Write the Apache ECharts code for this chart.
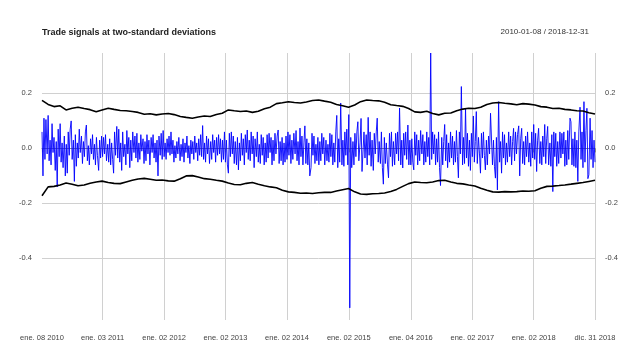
<!DOCTYPE html>
<html><head><meta charset="utf-8">
<script src="https://cdn.jsdelivr.net/npm/echarts@6/dist/echarts.min.js"></script>
<style>html,body{margin:0;padding:0;background:#fff}#c{width:636px;height:347px}</style>
</head><body><div id="c"></div>
<script>
const chartTitle = 'Trade signals at two-standard deviations';
const dateRange = '2010-01-08 / 2018-12-31';
const tickLabels = ['ene. 08 2010','ene. 03 2011','ene. 02 2012','ene. 02 2013','ene. 02 2014','ene. 02 2015','ene. 04 2016','ene. 02 2017','ene. 02 2018','dic. 31 2018'];
const tickIndex = [0, 247, 498, 748, 999, 1251, 1504, 1755, 2005, 2255];
const yTicks = [-0.4, -0.2, 0.0, 0.2];

// daily returns (visual extremes), one array per year
const ret2010 = [.06,-.10,.11,-.04,.105,-.02,.12,-.045,.03,-.06,.09,-.015,.04,-.08,.025,-.14,.07,-.03,.09,-.05,.02,-.07,.045,-.10,.015,-.09,.06,-.025,.07,.10,-.04,.03,-.12,.05,-.065,.02,-.035,.07,-.015,.045,-.055,.025,-.03,.06,.085,-.045,.01,-.06,.035,-.02,.05,-.04,.015,-.06,.04,-.025,-.08,.03,-.035,.045];
const ret2011 = [-.03,.04,-.02,.05,-.045,.015,-.05,.035,-.06,.02,-.04,-.09,.06,-.025,.08,-.035,.07,-.05,.02,-.08,.06,-.03,.015,-.06,.065,-.02,.04,-.07,.03,-.045,.06,-.015,.045,-.035,.055,-.05,.02,-.04,.05,-.01,.035,-.055,.025,-.045,.05,-.02,.03,-.06,.04,-.015,.05,-.035,.02,-.05,.03,-.10,.045,-.025,.055,-.04,.065];
const ret2012 = [-.03,.02,-.04,.035,-.015,.045,-.025,.06,-.02,.03,-.05,.01,-.035,.025,-.02,.04,-.045,.015,-.03,.035,-.05,.02,-.015,.045,-.035,.01,-.055,.03,-.02,.025,-.04,.045,-.015,.02,-.045,.035,-.025,.05,-.03,.083,-.04,.02,-.05,.045,-.02,.035,-.055,.025,-.04,.05,-.015,.03,-.05,.04,-.025,.05,-.02,.035,-.05,.03,-.04,.06];
const ret2013 = [-.05,.03,-.06,-.09,.055,-.03,.06,-.02,.045,-.055,.025,-.06,.04,-.078,.02,-.045,.055,-.025,.035,-.06,.05,-.015,.067,-.04,.03,-.045,.06,-.02,.045,-.07,.035,-.03,.06,-.05,.015,-.055,.05,-.025,.04,-.06,.02,-.05,.05,-.035,.055,-.015,.04,-.06,.03,-.045,.055,-.02,.045,.067,-.055,.025,-.045,.04,-.06,.02,-.05,.045];
const ret2014 = [-.04,.06,-.025,.05,-.055,.03,-.04,.055,-.02,.065,-.045,.025,-.06,.074,-.03,.045,-.06,.02,.082,-.055,.035,-.06,.02,-.10,-.07,.055,-.025,.045,-.055,.015,-.045,.04,-.06,.025,-.045,.055,-.02,.04,-.06,.03,-.045,.015,-.05,.055,-.03,.05,-.06,.02,-.05,.06,.12,-.07,.035,-.05,.165,-.06,.03,-.065,.06,-.025,.07,-.06];
const ret2015 = [.123,-.58,.04,-.07,.025,-.06,.055,-.03,.06,.097,-.045,.02,.109,-.084,-.09,.06,-.035,.05,-.06,.113,-.025,.06,-.065,.03,-.08,.055,-.02,.06,.11,-.05,.025,-.055,.06,-.07,-.13,.04,-.055,.02,-.06,-.107,.055,-.03,.06,-.065,.025,-.06,.055,-.02,.06,-.045,.147,-.06,.03,-.071,.055,-.025,.06,-.04,.085,-.06,.03];
const ret2016 = [-.06,.035,-.05,-.078,.06,-.025,.05,-.06,.03,-.045,.065,-.02,.05,-.06,.025,-.05,.06,-.03,.04,-.06,.347,-.04,.06,-.02,.05,-.06,.035,-.05,.06,-.07,-.135,.04,-.06,.025,.087,-.045,.05,-.07,.02,-.05,.06,-.035,.045,-.06,.025,-.05,.065,-.03,-.107,.06,-.02,.225,-.06,.04,-.055,.146,-.035,.055,-.065,.03,-.08,.055];
const ret2017 = [-.03,.118,-.05,.025,.134,-.055,.04,-.02,-.09,.055,-.035,.06,-.025,-.078,.03,-.06,.045,-.02,.128,.123,-.06,.03,-.065,-.108,.04,-.151,.17,-.05,.025,-.09,.06,-.035,.05,-.06,.02,-.05,.06,-.03,.045,-.06,.025,.073,-.045,.06,-.02,.05,.082,-.10,.035,.073,-.055,.025,-.06,.045,-.03,.06,-.05,.02,-.065,.06,-.035];
const ret2018 = [.087,-.04,.055,-.084,.03,.073,-.055,.025,-.06,.045,-.03,.087,-.055,.035,.08,-.06,.02,-.065,.05,-.157,.06,-.03,.055,-.065,.025,-.055,.06,-.035,.055,-.02,.06,-.065,.03,-.06,.065,-.04,.11,.097,-.06,.035,-.065,.06,-.07,.03,-.12,.06,.15,-.04,.06,-.07,.17,-.05,.065,.146,-.11,-.096,.11,-.04,.065,-.07,.03,-.05];

// rolling two-standard-deviation bands, evenly spaced over the whole period
const upperBand = [.175,.160,.152,.155,.140,.146,.150,.145,.141,.133,.140,.146,.142,.138,.137,.134,.131,.124,.126,.122,.125,.127,.123,.116,.113,.110,.114,.118,.116,.123,.128,.140,.137,.134,.136,.131,.135,.144,.150,.163,.166,.170,.167,.165,.169,.174,.176,.172,.168,.160,.155,.150,.158,.170,.176,.174,.173,.168,.159,.156,.153,.145,.133,.131,.135,.127,.122,.128,.129,.137,.143,.146,.145,.150,.160,.165,.167,.164,.162,.159,.163,.161,.158,.152,.150,.145,.146,.142,.140,.137,.136,.130,.125];
const lowerBand = [-.172,-.140,-.138,-.133,-.126,-.130,-.136,-.133,-.127,-.122,-.119,-.124,-.127,-.128,-.122,-.116,-.111,-.109,-.112,-.116,-.115,-.118,-.119,-.110,-.100,-.099,-.104,-.110,-.112,-.116,-.119,-.126,-.131,-.132,-.127,-.124,-.130,-.136,-.140,-.143,-.152,-.158,-.160,-.163,-.162,-.164,-.161,-.160,-.160,-.155,-.150,-.146,-.158,-.166,-.167,-.165,-.164,-.162,-.157,-.149,-.138,-.128,-.122,-.124,-.125,-.122,-.117,-.116,-.122,-.127,-.129,-.133,-.137,-.145,-.152,-.158,-.159,-.157,-.158,-.157,-.155,-.156,-.154,-.145,-.138,-.137,-.135,-.133,-.130,-.127,-.124,-.120,-.116];

const years = [ret2010, ret2011, ret2012, ret2013, ret2014, ret2015, ret2016, ret2017, ret2018];
const N = tickIndex[tickIndex.length - 1] + 1;
const cats = [];
for (let i = 0; i < N; i++) cats.push(String(i));
const labelAt = {};
tickIndex.forEach((t, k) => { labelAt[t] = tickLabels[k]; });
const tickSet = new Set(tickIndex);

const blue = [];
years.forEach((arr, y) => {
  const s = tickIndex[y], e = tickIndex[y + 1];
  const last = y === years.length - 1;
  const step = last ? (e - s) / (arr.length - 1) : (e - s) / arr.length;
  arr.forEach((v, k) => blue.push([Math.round(s + k * step), v]));
});
function bandData(arr) {
  const step = (N - 1) / (arr.length - 1);
  return arr.map((v, k) => [Math.round(k * step), v]);
}

const yMin = -0.624, yMax = 0.347;
const chart = echarts.init(document.getElementById('c'), null, {renderer: 'canvas'});
const lblStyle = {fontFamily: 'Liberation Sans, Arial, sans-serif', fontSize: 7.5, color: '#444'};
chart.setOption({
  animation: false,
  backgroundColor: '#ffffff',
  title: [
    {text: chartTitle, left: 42, top: 28, padding: 0,
     textStyle: {fontFamily: 'Liberation Sans, Arial, sans-serif', fontSize: 9, fontWeight: 'bold', color: '#222'}},
    {text: dateRange, right: 47, top: 28, padding: 0,
     textStyle: {fontFamily: 'Liberation Sans, Arial, sans-serif', fontSize: 8, fontWeight: 'normal', color: '#333'}}
  ],
  grid: {left: 42, right: 41, top: 53, bottom: 27, containLabel: false, outerBoundsMode: 'none'},
  xAxis: {
    type: 'category', data: cats, boundaryGap: false,
    axisLine: {show: true, lineStyle: {color: '#888', width: 1}},
    axisTick: {show: true, length: 4, interval: (i) => tickSet.has(i), lineStyle: {color: '#888'}},
    axisLabel: Object.assign({interval: (i) => tickSet.has(i), margin: 14,
      formatter: (v, i) => labelAt[Number(v)] || ''}, lblStyle),
    splitLine: {show: true, interval: (i) => tickSet.has(i) && i > 0, lineStyle: {color: '#d0d0d0', width: 1}}
  },
  yAxis: [
    {type: 'value', min: yMin, max: yMax, position: 'left',
     axisLine: {show: false}, axisTick: {show: false, customValues: yTicks},
     axisLabel: Object.assign({customValues: yTicks, margin: 10, formatter: v => v.toFixed(1)}, lblStyle),
     splitLine: {show: true, lineStyle: {color: '#d0d0d0', width: 1}}},
    {type: 'value', min: yMin, max: yMax, position: 'right',
     axisLine: {show: false}, axisTick: {show: false, customValues: yTicks},
     axisLabel: Object.assign({customValues: yTicks, margin: 10, formatter: v => v.toFixed(1)}, lblStyle),
     splitLine: {show: false}}
  ],
  series: [
    {type: 'line', data: blue, symbol: 'none', sampling: null, z: 2,
     lineStyle: {color: '#0000ff', width: 0.9}},
    {type: 'line', data: bandData(upperBand), symbol: 'none', z: 3,
     lineStyle: {color: '#000000', width: 1.6}},
    {type: 'line', data: bandData(lowerBand), symbol: 'none', z: 3,
     lineStyle: {color: '#000000', width: 1.6}}
  ]
});
</script></body></html>
